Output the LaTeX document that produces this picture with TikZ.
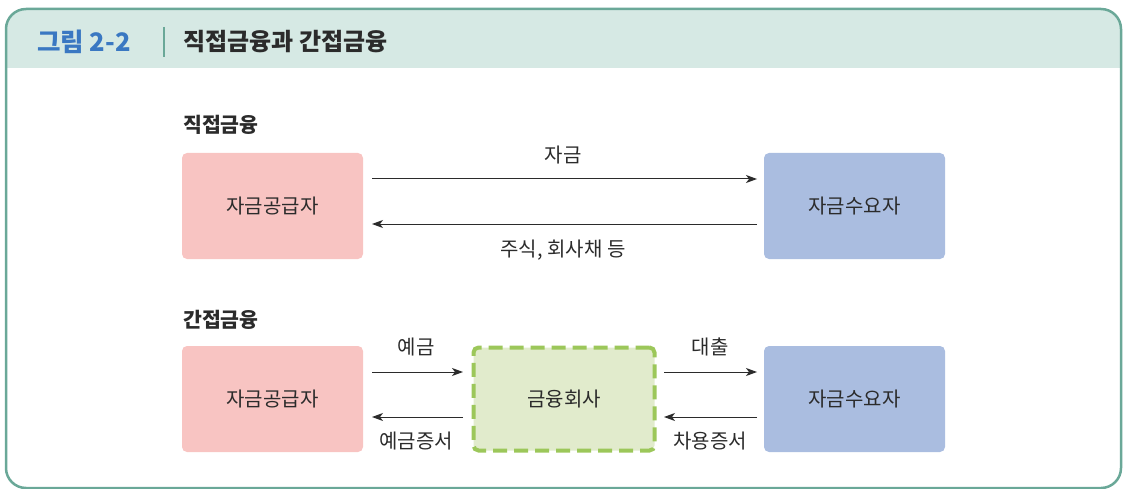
\documentclass[tikz,border=0pt]{standalone}
\usepackage{fontspec}
\setmainfont{Noto Sans CJK KR}
\usetikzlibrary{arrows.meta}
\definecolor{frameC}{HTML}{6AA898}
\definecolor{headC}{HTML}{D6E9E4}
\definecolor{blueT}{HTML}{3A78C2}
\definecolor{txtC}{HTML}{2B2B2B}
\definecolor{pinkC}{HTML}{F8C4C2}
\definecolor{blueC}{HTML}{AABDE0}
\definecolor{greenF}{HTML}{E1EBCC}
\definecolor{greenD}{HTML}{9CC75A}
\tikzset{
  box/.style={rounded corners=5pt, minimum width=181pt, minimum height=106pt, inner sep=0pt, text=txtC, font=\fontsize{20pt}{22pt}\selectfont},
  supplier/.style={box, fill=pinkC},
  demander/.style={box, fill=blueC},
  bank/.style={box, minimum width=181pt, minimum height=103pt, fill=greenF, draw=greenD, line width=4pt, dash pattern=on 14pt off 7pt},
  flow/.style={draw=txtC, line width=1pt, -{Stealth[length=11pt,width=8pt,inset=3pt]}},
  lbl/.style={text=txtC, font=\fontsize{20pt}{22pt}\selectfont, inner sep=0pt},
  sec/.style={text=txtC, font=\bfseries\fontsize{20.5pt}{22pt}\selectfont, anchor=west, inner sep=0pt}
}
\begin{document}
\begin{tikzpicture}[x=1pt,y=-1pt]
\useasboundingbox (0,0) rectangle (1126,489);
% header
\fill[headC, rounded corners=20pt] (6,9) -- (1121,9) -- (1121,68) -- (6,68) -- cycle;
\fill[headC] (6,40) rectangle (1121,68);
\draw[frameC, line width=2.5pt, rounded corners=20pt] (6,9) rectangle (1121,488);
\node[anchor=west, inner sep=0pt, text=blueT, font=\bfseries\fontsize{25.5pt}{27pt}\selectfont] (fig) at (37,42) {그림 2-2};
\draw[frameC, line width=2pt] (164,27) -- (164,57);
\node[anchor=west, inner sep=0pt, text=txtC, font=\bfseries\fontsize{24pt}{26pt}\selectfont] (title) at (183,42) {직접금융과 간접금융};
% direct
\node[sec] (dlab) at (183,125) {직접금융};
\node[supplier] (s1) at (272.5,206) {자금공급자};
\node[demander] (d1) at (854.5,206) {자금수요자};
\coordinate (a1s) at (372,179); \coordinate (a1e) at (757,179);
\coordinate (a2s) at (757,224); \coordinate (a2e) at (372,224);
\draw[flow] (a1s) -- (a1e);
\draw[flow] (a2s) -- (a2e);
\node[lbl] (l1) at (563,155) {자금};
\node[lbl] (l2) at (563,250) {주식, 회사채 등};
% indirect
\node[sec] (ilab) at (183,320) {간접금융};
\node[supplier] (s2) at (272.5,399) {자금공급자};
\node[bank] (b) at (564,399) {금융회사};
\node[demander] (d2) at (854.5,399) {자금수요자};
\coordinate (b1s) at (372,372); \coordinate (b1e) at (463,372);
\coordinate (b2s) at (463,417); \coordinate (b2e) at (372,417);
\coordinate (c1s) at (664,372); \coordinate (c1e) at (757,372);
\coordinate (c2s) at (757,417); \coordinate (c2e) at (664,417);
\draw[flow] (b1s) -- (b1e);
\draw[flow] (b2s) -- (b2e);
\draw[flow] (c1s) -- (c1e);
\draw[flow] (c2s) -- (c2e);
\node[lbl] (m1) at (416,347) {예금};
\node[lbl] (m2) at (416,441) {예금증서};
\node[lbl] (m3) at (710,347) {대출};
\node[lbl] (m4) at (710,441) {차용증서};
\end{tikzpicture}
\end{document}
